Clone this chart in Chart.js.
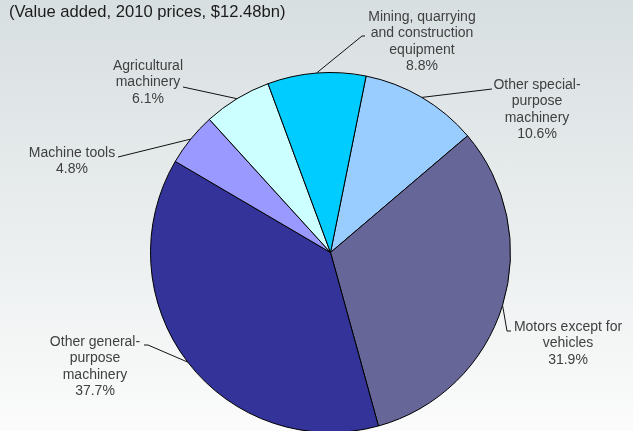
<!DOCTYPE html>
<html>
<head>
<meta charset="utf-8">
<script src="https://cdn.jsdelivr.net/npm/chart.js@4.4.1/dist/chart.umd.min.js"></script>
<style>
  html, body { margin: 0; padding: 0; overflow: hidden; }
  body { width: 633px; height: 431px; }
  #wrap {
    position: relative; width: 633px; height: 440px;
    background: linear-gradient(to bottom, #d8dfe1 0%, #e9edee 50%, #fcfcfc 100%);
  }
  #subtitle {
    position: absolute; left: 9px; top: 2px; margin: 0;
    font: 16.6px "Liberation Sans", Arial, sans-serif; color: #1c1c1c;
    white-space: nowrap;
  }
</style>
</head>
<body>
<div id="wrap">
  <canvas id="chart"></canvas>
  <p id="subtitle">(Value added, 2010 prices, $12.48bn)</p>
</div>
<script>
// Machinery output by product group, share of value added (%)
const categories = [
  ["Other special-", "purpose", "machinery"],
  ["Motors except for", "vehicles"],
  ["Other general-", "purpose", "machinery"],
  ["Machine tools"],
  ["Agricultural", "machinery"],
  ["Mining, quarrying", "and construction", "equipment"]
];
const shares = [10.6, 31.9, 37.7, 4.8, 6.1, 8.8];
const sliceColors = ["#99ccff", "#666699", "#333399", "#9999ff", "#ccffff", "#00ccff"];

// Where each callout sits: text centre x, first line centre y, and the elbow of its leader
const calloutLayout = [
  { x: 537, y: 85,  elbow: [492, 89],  tick: 0 },
  { x: 568, y: 327, elbow: [507, 331], tick: 4 },
  { x: 95,  y: 342, elbow: [148, 345], tick: -4 },
  { x: 72,  y: 153, elbow: [118, 157], tick: 0 },
  { x: 148, y: 66,  elbow: [183, 87],  tick: 0 },
  { x: 422, y: 17,  elbow: [362, 36],  tick: 3 }
];

const callouts = {
  id: "callouts",
  afterDatasetsDraw(chart) {
    const ctx = chart.ctx;
    const meta = chart.getDatasetMeta(0);
    const lineH = 16.5;
    ctx.save();
    meta.data.forEach((arc, i) => {
      const p = arc.getProps(["x", "y", "startAngle", "endAngle", "outerRadius"], true);
      const mid = (p.startAngle + p.endAngle) / 2;
      const ax = p.x + Math.cos(mid) * p.outerRadius;
      const ay = p.y + Math.sin(mid) * p.outerRadius;
      const L = calloutLayout[i];
      ctx.strokeStyle = "#111";
      ctx.lineWidth = 1;
      ctx.beginPath();
      ctx.moveTo(ax, ay);
      ctx.lineTo(L.elbow[0], L.elbow[1]);
      if (L.tick) ctx.lineTo(L.elbow[0] + L.tick, L.elbow[1]);
      ctx.stroke();

      const lines = categories[i].concat([shares[i].toFixed(1) + "%"]);
      ctx.fillStyle = "#404040";
      ctx.font = '14px "Liberation Sans", Arial, sans-serif';
      ctx.textAlign = "center";
      ctx.textBaseline = "middle";
      lines.forEach((t, k) => ctx.fillText(t, L.x, L.y + k * lineH));
    });
    ctx.restore();
  }
};

new Chart(document.getElementById("chart"), {
  type: "pie",
  data: {
    labels: categories.map(c => c.join(" ")),
    datasets: [{
      data: shares,
      backgroundColor: sliceColors,
      borderColor: "#000",
      borderWidth: 1,
      borderAlign: "center"
    }]
  },
  options: {
    responsive: true,
    maintainAspectRatio: false,
    animation: false,
    rotation: 11.4,
    layout: { padding: { top: 72, bottom: 7, left: 150, right: 122 } },
    plugins: { legend: { display: false }, tooltip: { enabled: false } },
    elements: { arc: { borderJoinStyle: "miter" } }
  },
  plugins: [callouts]
});
</script>
</body>
</html>
